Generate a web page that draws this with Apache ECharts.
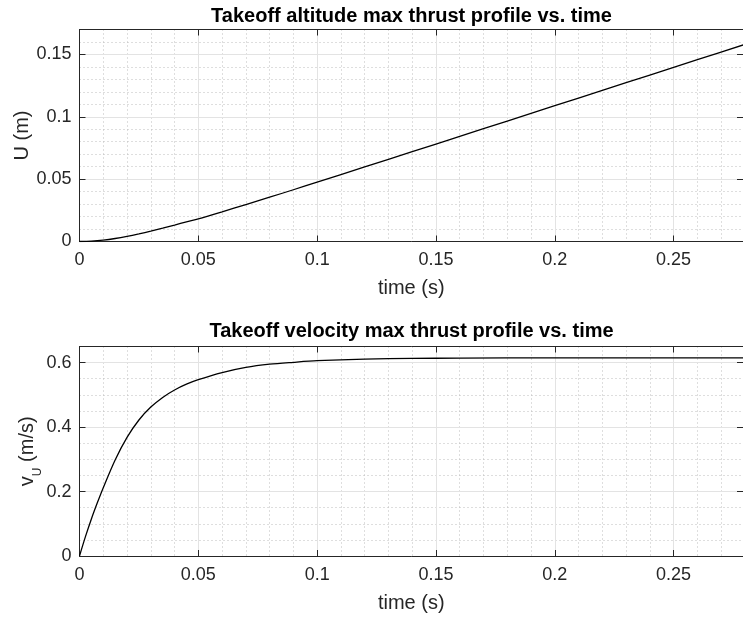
<!DOCTYPE html>
<html>
<head>
<meta charset="utf-8">
<script src="https://cdn.jsdelivr.net/npm/echarts@6/dist/echarts.min.js"></script>
<style>
html,body{margin:0;padding:0;background:#fff;}
#c{width:743px;height:617px;}
</style>
</head>
<body>
<div id="c"></div>
<script>
// ---- data ----
const titleTop = 'Takeoff altitude max thrust profile vs. time';
const titleBottom = 'Takeoff velocity max thrust profile vs. time';
const xLabel = 'time (s)';
const yLabelTop = 'U (m)';

const timeAlt = [0, 0.005, 0.01, 0.015, 0.02, 0.025, 0.03, 0.035, 0.04, 0.045, 0.05, 0.06, 0.07, 0.08, 0.09, 0.1, 0.12, 0.14, 0.16, 0.18, 0.2, 0.22, 0.24, 0.26, 0.28];
const altitude = [0, 0.0003, 0.0011, 0.0024, 0.0041, 0.0061, 0.0083, 0.0107, 0.0132, 0.0158, 0.0182, 0.0238, 0.0296, 0.0355, 0.0415, 0.0476, 0.0598, 0.0720, 0.0843, 0.0966, 0.1089, 0.1212, 0.1335, 0.1458, 0.1581];

const timeVel = [0, 0.0025, 0.005, 0.0075, 0.01, 0.015, 0.02, 0.025, 0.03, 0.035, 0.04, 0.045, 0.05, 0.06, 0.07, 0.08, 0.09, 0.1, 0.12, 0.14, 0.16, 0.2, 0.24, 0.28];
const velocity = [0, 0.06, 0.115, 0.165, 0.212, 0.298, 0.368, 0.422, 0.462, 0.492, 0.515, 0.533, 0.547, 0.569, 0.585, 0.595, 0.601, 0.606, 0.611, 0.613, 0.614, 0.615, 0.615, 0.615];

const xMin = 0, xMax = 0.2792, xMajor = 0.05, xMinor = 0.01;
const yTopMax = 0.17, yTopMajor = 0.05, yTopMinor = 0.01;
const yBotMax = 0.65, yBotMajor = 0.2, yBotMinor = 0.05;

// ---- styles ----
const FONT = '"Liberation Sans", Arial, Helvetica, sans-serif';
const AX = '#262626';
const MAJOR = '#e3e3e3';
const MINOR = '#bdbdbd';

function mainX(grid, name) {
  return {
    type: 'value', gridIndex: grid, position: 'bottom', min: xMin, max: xMax, interval: xMajor, z: 2,
    axisLine: {show: true, onZero: false, lineStyle: {color: AX, width: 1}},
    axisTick: {show: true, inside: true, length: 6, lineStyle: {color: AX}},
    axisLabel: {show: true, fontSize: 18, fontFamily: FONT, color: AX, margin: 10, showMaxLabel: false},
    splitLine: {show: true, lineStyle: {color: MAJOR, width: 1}},
    name: name, nameLocation: 'middle', nameGap: 37, nameMoveOverlap: false,
    nameTextStyle: {fontSize: 20, fontFamily: FONT, color: AX, lineHeight: 20}
  };
}
function minorX(grid) {
  return {
    type: 'value', gridIndex: grid, position: 'bottom', min: xMin, max: xMax, interval: xMinor, z: 1,
    axisLine: {show: false}, axisTick: {show: false}, axisLabel: {show: false},
    splitLine: {show: true, lineStyle: {color: MINOR, width: 1, type: [1, 3]}}
  };
}
function frameX(grid) {
  return {
    type: 'value', gridIndex: grid, position: 'top', min: xMin, max: xMax, interval: xMajor, z: 3,
    axisLine: {show: true, onZero: false, lineStyle: {color: AX, width: 1}},
    axisTick: {show: true, inside: true, length: 6, lineStyle: {color: AX}},
    axisLabel: {show: false}, splitLine: {show: false}
  };
}
function mainY(grid, max, major, name, nameGap, nameStyle) {
  return {
    type: 'value', gridIndex: grid, position: 'left', min: 0, max: max, interval: major, z: 2,
    axisLine: {show: true, onZero: false, lineStyle: {color: AX, width: 1}},
    axisTick: {show: true, inside: true, length: 6, lineStyle: {color: AX}},
    axisLabel: {show: true, fontSize: 18, fontFamily: FONT, color: AX, margin: 8, showMaxLabel: false},
    splitLine: {show: true, lineStyle: {color: MAJOR, width: 1}},
    name: name, nameLocation: 'middle', nameGap: nameGap, nameMoveOverlap: false,
    nameTextStyle: nameStyle
  };
}
function minorY(grid, max, minor) {
  return {
    type: 'value', gridIndex: grid, position: 'left', min: 0, max: max, interval: minor, z: 1,
    axisLine: {show: false}, axisTick: {show: false}, axisLabel: {show: false},
    splitLine: {show: true, lineStyle: {color: MINOR, width: 1, type: [1, 3]}}
  };
}
function frameY(grid, max, major) {
  return {
    type: 'value', gridIndex: grid, position: 'right', min: 0, max: max, interval: major, z: 3,
    axisLine: {show: true, onZero: false, lineStyle: {color: AX, width: 1}},
    axisTick: {show: true, inside: true, length: 6, lineStyle: {color: AX}},
    axisLabel: {show: false}, splitLine: {show: false}
  };
}

const gridW = 668;
const option = {
  animation: false,
  backgroundColor: '#ffffff',
  graphic: [
    {type: 'text', x: 411.5, y: 16, z: 10, style: {text: titleTop, font: 'bold 20px ' + FONT, fill: '#000', textAlign: 'center', textVerticalAlign: 'middle'}},
    {type: 'text', x: 411.5, y: 331.5, z: 10, style: {text: titleBottom, font: 'bold 20px ' + FONT, fill: '#000', textAlign: 'center', textVerticalAlign: 'middle'}}
  ],
  grid: [
    {left: 79.5, top: 29.5, width: gridW, height: 212, containLabel: false},
    {left: 79.5, top: 346.5, width: gridW, height: 209.5, containLabel: false}
  ],
  xAxis: [
    mainX(0, xLabel), minorX(0), frameX(0),
    mainX(1, xLabel), minorX(1), frameX(1)
  ],
  yAxis: [
    mainY(0, yTopMax, yTopMajor, yLabelTop, 47, {fontSize: 20, fontFamily: FONT, color: AX, lineHeight: 20}),
    minorY(0, yTopMax, yTopMinor), frameY(0, yTopMax, yTopMajor),
    mainY(1, yBotMax, yBotMajor, '{a|v}{s|U}{a| (m/s)}', 42.5, {
      color: AX, fontFamily: FONT,
      rich: {
        a: {fontSize: 20, lineHeight: 20, fontFamily: FONT, color: AX, verticalAlign: 'top'},
        s: {fontSize: 12, lineHeight: 12, fontFamily: FONT, color: AX, verticalAlign: 'top', padding: [15, 0, 0, 0]}
      }
    }),
    minorY(1, yBotMax, yBotMinor), frameY(1, yBotMax, yBotMajor)
  ],
  series: [
    {
      type: 'line', xAxisIndex: 0, yAxisIndex: 0, z: 5,
      data: timeAlt.map((t, i) => [t, altitude[i]]),
      showSymbol: false, smooth: 0.3, clip: true,
      lineStyle: {color: '#000', width: 1.3}
    },
    {
      type: 'line', xAxisIndex: 3, yAxisIndex: 3, z: 5,
      data: timeVel.map((t, i) => [t, velocity[i]]),
      showSymbol: false, smooth: 0.3, clip: true,
      lineStyle: {color: '#000', width: 1.3}
    }
  ]
};
const chart = echarts.init(document.getElementById('c'), null, {renderer: 'canvas'});
chart.setOption(option);
</script>
</body>
</html>
